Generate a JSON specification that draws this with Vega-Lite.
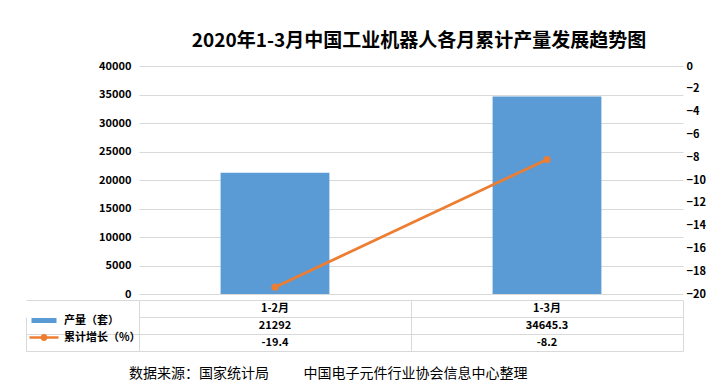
{
  "$schema": "https://vega.github.io/schema/vega-lite/v6.json",
  "background": "white",
  "padding": {"left": 25, "top": 32, "right": 5, "bottom": 0},
  "datasets": {
    "d": [
      {"月份": "1-2月", "产量（套）": 21292, "累计增长（%）": -19.4},
      {"月份": "1-3月", "产量（套）": 34645.3, "累计增长（%）": -8.2}
    ]
  },
  "data": {"name": "d"},
  "config": {
    "view": {"stroke": null},
    "font": "Noto Sans CJK SC",
    "axis": {"labelFont": "Noto Sans CJK SC"}
  },
  "spacing": 0,
  "resolve": {"scale": {"x": "independent", "y": "independent"}},
  "vconcat": [
    {
      "width": 544,
      "height": 228,
      "title": {
        "text": "2020年1-3月中国工业机器人各月累计产量发展趋势图",
        "fontSize": 19,
        "fontWeight": "bold",
        "anchor": "middle",
        "frame": "group",
        "offset": 9,
        "dx": 8,
        "color": "#000000"
      },
      "encoding": {
        "x": {
          "field": "月份",
          "type": "nominal",
          "sort": null,
          "scale": {"paddingInner": 0.6, "paddingOuter": 0.3},
          "axis": null
        }
      },
      "layer": [
        {
          "mark": {"type": "bar", "color": "#5B9BD5"},
          "encoding": {
            "y": {
              "field": "产量（套）",
              "type": "quantitative",
              "scale": {"domain": [0, 40000]},
              "axis": {
                "values": [0, 5000, 10000, 15000, 20000, 25000, 30000, 35000, 40000],
                "format": "d",
                "title": null,
                "grid": true,
                "gridColor": "#D9D9D9",
                "domain": false,
                "ticks": false,
                "labelPadding": 8,
                "labelFontWeight": "bold",
                "labelFontSize": 11,
                "labelColor": "#000000"
              }
            }
          }
        },
        {
          "mark": {
            "type": "line",
            "color": "#ED7D31",
            "strokeWidth": 2.75,
            "point": {"filled": true, "size": 50, "color": "#ED7D31"}
          },
          "encoding": {
            "y": {
              "field": "累计增长（%）",
              "type": "quantitative",
              "scale": {"domain": [-20, 0]},
              "axis": {
                "orient": "right",
                "values": [-20, -18, -16, -14, -12, -10, -8, -6, -4, -2, 0],
                "title": null,
                "grid": false,
                "domain": false,
                "ticks": false,
                "labelPadding": 3,
                "labelFontWeight": "bold",
                "labelFontSize": 11,
                "labelColor": "#000000"
              }
            }
          }
        }
      ],
      "resolve": {"scale": {"y": "independent"}}
    },
    {
      "width": 544,
      "height": 51,
      "transform": [{"fold": ["月份", "产量（套）", "累计增长（%）"], "as": ["行", "值"]}],
      "title": {
        "text": "数据来源：国家统计局\u00a0\u00a0\u00a0\u00a0\u00a0\u00a0\u00a0\u00a0\u00a0\u00a0\u00a0中国电子元件行业协会信息中心整理",
        "orient": "bottom",
        "anchor": "start",
        "frame": "group",
        "fontSize": 14,
        "fontWeight": "normal",
        "offset": 15,
        "dx": -10,
        "color": "#000000"
      },
      "encoding": {
        "x": {
          "field": "月份",
          "type": "nominal",
          "sort": null,
          "scale": {"paddingInner": 0, "paddingOuter": 0},
          "axis": {
            "orient": "top",
            "grid": true,
            "tickBand": "extent",
            "labels": false,
            "ticks": false,
            "domain": false,
            "gridColor": "#D9D9D9",
            "title": null
          }
        },
        "y": {
          "field": "行",
          "type": "nominal",
          "scale": {"domain": ["月份", "产量（套）", "累计增长（%）"], "paddingInner": 0, "paddingOuter": 0},
          "axis": {
            "grid": true,
            "tickBand": "extent",
            "labels": false,
            "ticks": true,
            "offset": 113,
            "tickSize": -113,
            "tickColor": {"condition": {"test": "datum.value === '月份'", "value": "transparent"}, "value": "#D9D9D9"},
            "domain": true,
            "domainColor": "#D9D9D9",
            "domainDash": [0, 17, 34],
            "gridColor": "#D9D9D9",
            "title": null
          }
        }
      },
      "layer": [
        {
          "mark": {"type": "text", "fontWeight": "bold", "fontSize": 11, "color": "#000000"},
          "encoding": {"text": {"field": "值", "type": "nominal"}}
        },
        {
          "transform": [{"filter": "datum['行'] !== '月份'"}],
          "mark": {"type": "point", "opacity": 0, "filled": true},
          "encoding": {
            "color": {
              "field": "行",
              "type": "nominal",
              "scale": {"domain": ["产量（套）", "累计增长（%）"], "range": ["#5B9BD5", "#ED7D31"]},
              "legend": {
                "orient": "none",
                "legendX": -100.5,
                "legendY": 249,
                "title": null,
                "padding": 0,
                "symbolSize": 100,
                "symbolOpacity": 1,
                "symbolStrokeWidth": 0,
                "labelOffset": 14.5,
                "labelFontSize": 11,
                "labelFontWeight": "bold",
                "labelColor": "#000000",
                "rowPadding": 5
              }
            },
            "shape": {
              "field": "行",
              "type": "nominal",
              "scale": {
                "domain": ["产量（套）", "累计增长（%）"],
                "range": ["M-2.5,-0.5H2.5V0.5H-2.5Z", "M-2.9,-0.25H2.9V0.25H-2.9Z M0.7,0A0.7,0.7,0,1,1,-0.7,0A0.7,0.7,0,1,1,0.7,0Z"]
              },
              "legend": {
                "orient": "none",
                "legendX": -100.5,
                "legendY": 249,
                "title": null,
                "padding": 0,
                "symbolSize": 100,
                "symbolOpacity": 1,
                "symbolStrokeWidth": 0,
                "labelOffset": 14.5,
                "labelFontSize": 11,
                "labelFontWeight": "bold",
                "labelColor": "#000000",
                "rowPadding": 5
              }
            }
          }
        }
      ]
    }
  ]
}
